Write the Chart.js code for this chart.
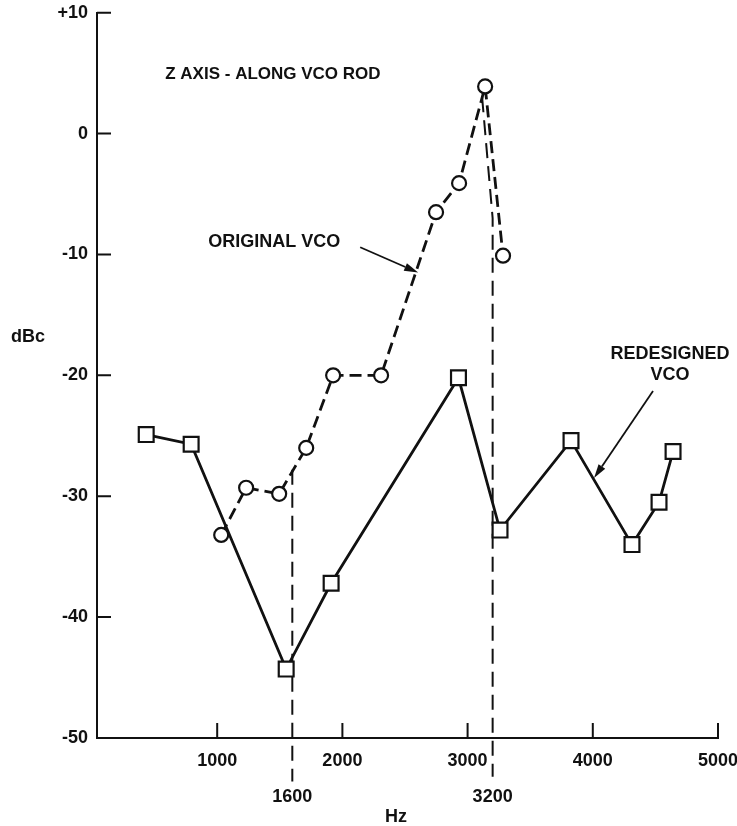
<!DOCTYPE html>
<html>
<head>
<meta charset="utf-8">
<script src="https://cdn.jsdelivr.net/npm/chart.js@4/dist/chart.umd.min.js"></script>
<style>
  html, body { margin: 0; padding: 0; background: #ffffff; }
  canvas { display: block; }
</style>
</head>
<body>
<canvas id="chart" width="737" height="826"></canvas>
<script>
// Axis ticks
const freqTicks = [1000, 2000, 3000, 4000, 5000];
const markerFreqs = [1600, 3200];
const dbTicks = [10, 0, -10, -20, -30, -40, -50];

// Original VCO (circles, dashed)
const originalHz = [1032, 1231, 1495, 1711, 1926, 2309, 2748, 2932, 3140, 3283];
const originalDb = [-33.2, -29.3, -29.8, -26.0, -20.0, -20.0, -6.5, -4.1, 3.9, -10.1];

// Redesigned VCO (squares, solid)
const redesignedHz = [433, 792, 1551, 1910, 2927, 3259, 3826, 4313, 4529, 4641];
const redesignedDb = [-24.9, -25.7, -44.3, -37.2, -20.2, -32.8, -25.4, -34.0, -30.5, -26.3];

// Dashed guides dropping to the 1600 Hz and 3200 Hz marks
const guide1600Hz = [1600, 1600];
const guide1600Db = [-27.8, -53.6];
const guide3200Hz = [3116, 3200, 3200];
const guide3200Db = [3.0, -7.0, -53.2];

const toPoints = (xs, ys) => xs.map((x, i) => ({ x: x, y: ys[i] }));

const FONT = '"Liberation Sans", Arial, Helvetica, sans-serif';
const INK = '#111111';

// Tick marks pointing into the plot area
const inwardTicks = {
  id: 'inwardTicks',
  beforeDatasetsDraw(chart) {
    const { ctx, chartArea, scales } = chart;
    ctx.save();
    ctx.strokeStyle = INK;
    ctx.lineWidth = 2;
    ctx.beginPath();
    scales.x.ticks.forEach(t => {
      const px = scales.x.getPixelForValue(t.value);
      ctx.moveTo(px, chartArea.bottom);
      ctx.lineTo(px, chartArea.bottom - 15);
    });
    scales.y.ticks.forEach(t => {
      if (t.value === -50) return;
      const py = scales.y.getPixelForValue(t.value);
      ctx.moveTo(chartArea.left, py);
      ctx.lineTo(chartArea.left + 14, py);
    });
    ctx.stroke();
    ctx.restore();
  }
};

function arrow(ctx, x1, y1, x2, y2) {
  const ang = Math.atan2(y2 - y1, x2 - x1);
  const len = 14, half = 4;
  const bx = x2 - len * Math.cos(ang), by = y2 - len * Math.sin(ang);
  ctx.beginPath();
  ctx.moveTo(x1, y1);
  ctx.lineTo(bx, by);
  ctx.stroke();
  ctx.beginPath();
  ctx.moveTo(x2, y2);
  ctx.lineTo(bx + half * Math.sin(ang), by - half * Math.cos(ang));
  ctx.lineTo(bx - half * Math.sin(ang), by + half * Math.cos(ang));
  ctx.closePath();
  ctx.fill();
}

// Title, series call-outs and axis names
const annotations = {
  id: 'annotations',
  afterDraw(chart) {
    const { ctx, scales } = chart;
    const X = v => scales.x.getPixelForValue(v);
    const Y = v => scales.y.getPixelForValue(v);
    ctx.save();
    ctx.fillStyle = INK;
    ctx.strokeStyle = INK;
    ctx.textBaseline = 'middle';

    ctx.font = 'bold 17px ' + FONT;
    ctx.textAlign = 'left';
    ctx.fillText('Z AXIS - ALONG VCO ROD', X(585), Y(4.9));

    ctx.font = 'bold 18px ' + FONT;
    ctx.fillText('ORIGINAL VCO', X(928), Y(-9.0));

    ctx.textAlign = 'center';
    ctx.fillText('REDESIGNED', X(4617), Y(-18.2));
    ctx.fillText('VCO', X(4617), Y(-18.2) + 21);

    ctx.lineWidth = 1.8;
    arrow(ctx, X(2142), Y(-9.4), X(2605), Y(-11.5));
    arrow(ctx, X(4481), Y(-21.3), X(4010), Y(-28.5));

    ctx.fillText('dBc', 28, 337);
    ctx.fillText('Hz', 396, 817);
    ctx.restore();
  }
};

const pointOpts = {
  pointBackgroundColor: '#ffffff',
  pointBorderColor: INK,
  pointBorderWidth: 2.2,
  pointHoverRadius: 0
};

// Keep the plot frame where the layout puts it, regardless of label overhang
const noOverhang = s => {
  s.paddingTop = 0; s.paddingBottom = 0;
  s.paddingLeft = 0; s.paddingRight = 0;
};

new Chart(document.getElementById('chart'), {
  type: 'scatter',
  data: {
    datasets: [
      Object.assign({
        label: 'ORIGINAL VCO',
        data: toPoints(originalHz, originalDb),
        showLine: true,
        borderColor: INK,
        borderWidth: 2.8,
        borderDash: [12, 6],
        pointStyle: 'circle',
        pointRadius: 7
      }, pointOpts),
      Object.assign({
        label: 'REDESIGNED VCO',
        data: toPoints(redesignedHz, redesignedDb),
        showLine: true,
        borderColor: INK,
        borderWidth: 2.8,
        pointStyle: 'rect',
        pointRadius: 10.5
      }, pointOpts),
      {
        label: '1600',
        data: toPoints(guide1600Hz, guide1600Db),
        showLine: true,
        borderColor: INK,
        borderWidth: 2,
        borderDash: [15, 8],
        pointRadius: 0,
        clip: false
      },
      {
        label: '3200',
        data: toPoints(guide3200Hz, guide3200Db),
        showLine: true,
        borderColor: INK,
        borderWidth: 2,
        borderDash: [15, 8],
        pointRadius: 0,
        clip: false
      }
    ]
  },
  options: {
    responsive: false,
    animation: false,
    events: [],
    layout: { padding: { top: 10, right: 19, left: 0, bottom: 0 } },
    plugins: {
      legend: { display: false },
      tooltip: { enabled: false }
    },
    scales: {
      x: {
        type: 'linear',
        position: 'bottom',
        min: 40,
        max: 5000,
        weight: 0,
        afterBuildTicks: s => { s.ticks = freqTicks.map(v => ({ value: v })); },
        afterFit: s => { s.height = 36; noOverhang(s); },
        grid: { display: false, drawTicks: false },
        border: { display: true, color: INK, width: 2 },
        ticks: {
          color: INK,
          padding: 12,
          maxRotation: 0,
          autoSkip: false,
          font: { family: FONT, size: 18, weight: 'bold' },
          callback: v => String(v)
        }
      },
      x2: {
        type: 'linear',
        position: 'bottom',
        min: 40,
        max: 5000,
        weight: 1,
        afterBuildTicks: s => { s.ticks = markerFreqs.map(v => ({ value: v })); },
        afterFit: s => { s.height = 52; noOverhang(s); },
        grid: { display: false, drawTicks: false },
        border: { display: false },
        ticks: {
          color: INK,
          padding: 12,
          maxRotation: 0,
          autoSkip: false,
          font: { family: FONT, size: 18, weight: 'bold' },
          callback: v => String(v)
        }
      },
      y: {
        type: 'linear',
        position: 'left',
        min: -50,
        max: 10,
        afterBuildTicks: s => { s.ticks = dbTicks.map(v => ({ value: v })); },
        afterFit: s => { s.width = 97; noOverhang(s); },
        grid: { display: false, drawTicks: false },
        border: { display: true, color: INK, width: 2 },
        ticks: {
          color: INK,
          padding: 9,
          autoSkip: false,
          font: { family: FONT, size: 18, weight: 'bold' },
          callback: v => (v > 0 ? '+' + v : String(v))
        }
      }
    }
  },
  plugins: [inwardTicks, annotations]
});
</script>
</body>
</html>
